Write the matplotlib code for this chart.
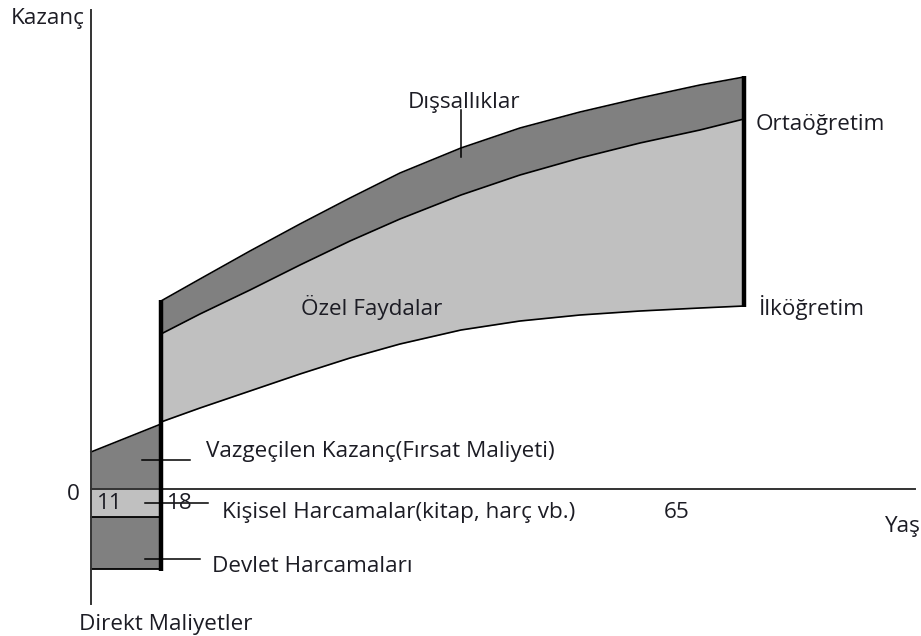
import matplotlib
matplotlib.use("Agg")
import matplotlib.pyplot as plt

# ---- data (in drawing units: x to the right, y downwards) ----
age_x      = [161, 200, 250, 300, 350, 400, 461, 520, 580, 640, 700, 744]
top_curve  = [301, 279, 251, 224, 198, 173, 148, 128, 112,  98,  85,  77]   # Dışsallıklar upper edge
mid_curve  = [334, 314, 290, 265, 241, 219, 195, 175, 158, 143, 130, 119]   # Ortaöğretim
bot_curve  = [422, 408, 391, 374, 358, 344, 330, 321, 315, 311, 308, 306]   # İlköğretim

cost_x       = [91, 161]
forgone_top  = [452, 424]      # Vazgeçilen kazanç upper edge
zero_level   = 489
personal_bot = 517
state_bot    = 569

labels_axis = {"y": "Kazanç", "x": "Yaş"}
tick_labels = ["0", "11", "18", "65"]

TXT = "#1c1c24"
DARK = "#808080"
LIGHT = "#c0c0c0"
FONT = "Open Sans"
FS = 16.2

fig = plt.figure(figsize=(9.21, 6.36), dpi=100)
ax = fig.add_axes([0, 0, 1, 1])
ax.set_xlim(0, 921)
ax.set_ylim(636, 0)
ax.axis("off")

# benefit bands
ax.fill_between(age_x, top_curve, mid_curve, color=DARK, lw=0, zorder=1)
ax.fill_between(age_x, mid_curve, bot_curve, color=LIGHT, lw=0, zorder=1)
for c in (top_curve, mid_curve, bot_curve):
    ax.plot(age_x, c, color="black", lw=1.2, zorder=2)

# cost region
ax.fill_between(cost_x, forgone_top, [zero_level] * 2, color=DARK, lw=0, zorder=1)
ax.fill_between(cost_x, [zero_level] * 2, [personal_bot] * 2, color=LIGHT, lw=0, zorder=1)
ax.fill_between(cost_x, [personal_bot] * 2, [state_bot] * 2, color=DARK, lw=0, zorder=1)
ax.plot(cost_x + [age_x[0]], forgone_top + [bot_curve[0]], color="black", lw=1.2, zorder=2)
ax.plot(cost_x, [personal_bot] * 2, color="black", lw=1.3, zorder=2)
ax.plot(cost_x, [state_bot] * 2, color="black", lw=1.3, zorder=2)

# axes lines
ax.plot([91, 91], [10, 604], color="#333333", lw=1.4, zorder=3)
ax.plot([91, 915], [zero_level, zero_level], color="#333333", lw=1.4, zorder=3)

# thick verticals
ax.plot([161, 161], [top_curve[0] - 1, 571], color="black", lw=3.2, solid_capstyle="butt", zorder=4)
ax.plot([744, 744], [top_curve[-1] - 1, bot_curve[-1] + 1], color="black", lw=3.2, solid_capstyle="butt", zorder=4)

# leader lines
ax.plot([461, 461], [110, 157], color="black", lw=1.1, zorder=5)
ax.plot([142, 190], [460, 460], color="black", lw=1.1, zorder=5)
ax.plot([145, 208], [503, 503], color="black", lw=1.1, zorder=5)
ax.plot([145, 200], [559, 559], color="black", lw=1.1, zorder=5)

def t(x, y, s, ha="left"):
    ax.text(x, y, s, ha=ha, va="baseline", fontsize=FS, color=TXT,
            family=[FONT, "DejaVu Sans"], zorder=6)

t(11, 24, labels_axis["y"])
t(885, 532, labels_axis["x"])
t(408, 108, "Dışsallıklar")
t(301, 315, "Özel Faydalar")
t(756, 130, "Ortaöğretim")
t(759, 315, "İlköğretim")
t(206, 457, "Vazgeçilen Kazanç(Fırsat Maliyeti)")
t(222, 518, "Kişisel Harcamalar(kitap, harç vb.)")
t(212, 572, "Devlet Harcamaları")
t(79, 630, "Direkt Maliyetler")
t(67, 500, tick_labels[0])
t(97, 509, tick_labels[1])
t(167, 509, tick_labels[2])
t(664, 518, tick_labels[3])

fig.savefig("out.png", dpi=100)
